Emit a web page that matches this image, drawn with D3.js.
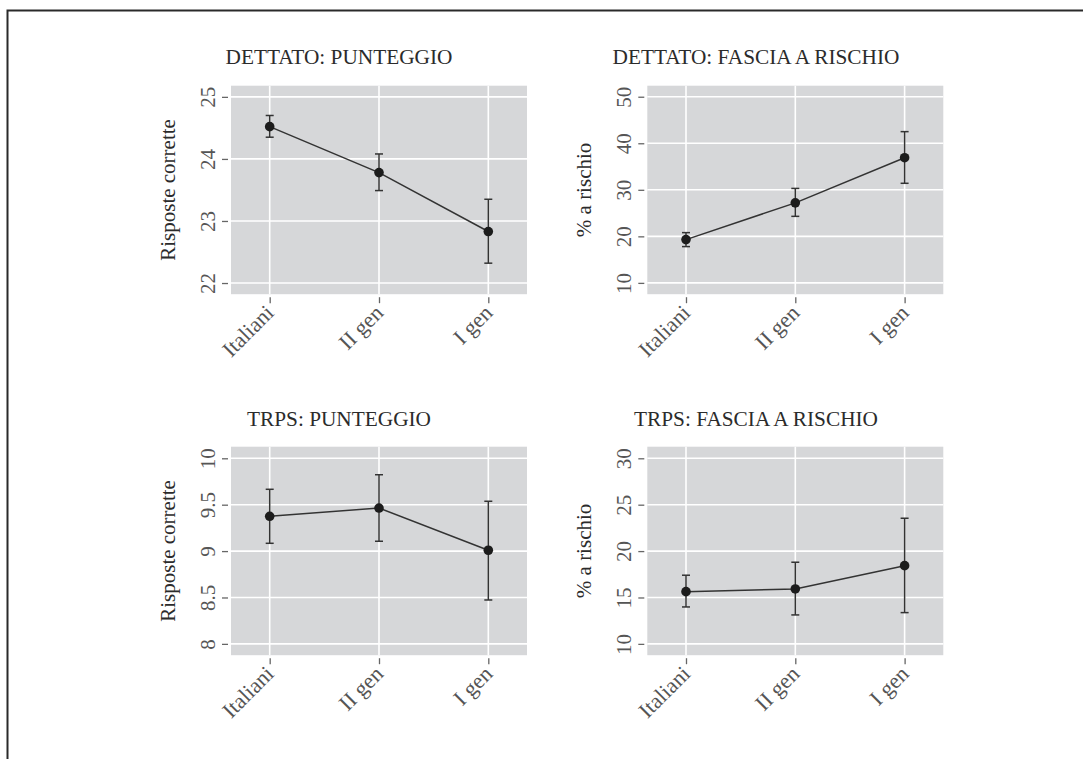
<!DOCTYPE html>
<html>
<head>
<meta charset="utf-8">
<script src="https://cdn.jsdelivr.net/npm/d3@7"></script>
<style>
  html, body { margin: 0; padding: 0; background: #fff; }
  svg { display: block; }
  text { font-family: "Liberation Serif", "DejaVu Serif", serif; }
</style>
</head>
<body>
<svg id="chart" width="1083" height="759"></svg>
<script>
// Groups compared in every panel
const categories = ["Italiani", "II gen", "I gen"];

// DETTATO: punteggio (risposte corrette) — mean with confidence interval
const dettatoScoreMean = [24.52, 23.78, 22.83];
const dettatoScoreLow  = [24.35, 23.49, 22.32];
const dettatoScoreHigh = [24.70, 24.08, 23.35];

// DETTATO: % in fascia a rischio
const dettatoRiskMean = [19.3, 27.2, 36.9];
const dettatoRiskLow  = [17.8, 24.3, 31.4];
const dettatoRiskHigh = [20.8, 30.3, 42.5];

// TRPS: punteggio (risposte corrette)
const trpsScoreMean = [9.375, 9.464, 9.009];
const trpsScoreLow  = [9.084, 9.106, 8.473];
const trpsScoreHigh = [9.666, 9.823, 9.537];

// TRPS: % in fascia a rischio
const trpsRiskMean = [15.63, 15.92, 18.43];
const trpsRiskLow  = [13.98, 13.12, 13.37];
const trpsRiskHigh = [17.40, 18.80, 23.54];

// Tick values per panel
const dettatoScoreTicks = [22, 23, 24, 25];
const dettatoRiskTicks  = [10, 20, 30, 40, 50];
const trpsScoreTicks    = [8, 8.5, 9, 9.5, 10];
const trpsRiskTicks     = [10, 15, 20, 25, 30];

const panels = [
  { title: "DETTATO: PUNTEGGIO", ylabel: "Risposte corrette",
    mean: dettatoScoreMean, lo: dettatoScoreLow, hi: dettatoScoreHigh,
    ticks: dettatoScoreTicks, domain: [21.82, 25.18],
    x0: 231, y0: 85.7, col: 0, row: 0 },
  { title: "DETTATO: FASCIA A RISCHIO", ylabel: "% a rischio",
    mean: dettatoRiskMean, lo: dettatoRiskLow, hi: dettatoRiskHigh,
    ticks: dettatoRiskTicks, domain: [7.57, 52.37],
    x0: 647.3, y0: 85.7, col: 1, row: 0 },
  { title: "TRPS: PUNTEGGIO", ylabel: "Risposte corrette",
    mean: trpsScoreMean, lo: trpsScoreLow, hi: trpsScoreHigh,
    ticks: trpsScoreTicks, domain: [7.878, 10.125],
    x0: 231, y0: 446.7, col: 0, row: 1 },
  { title: "TRPS: FASCIA A RISCHIO", ylabel: "% a rischio",
    mean: trpsRiskMean, lo: trpsRiskLow, hi: trpsRiskHigh,
    ticks: trpsRiskTicks, domain: [8.78, 31.25],
    x0: 647.3, y0: 446.7, col: 1, row: 1 }
];

const plotW = 296, plotH = 208.5;
const titleCenters = [339, 756];
const titleBaselines = [64, 426];

const svg = d3.select("#chart");

// page frame (top and left rules)
svg.append("path")
  .attr("d", "M7.5,759 L7.5,10.5 L1083,10.5")
  .attr("fill", "none")
  .attr("stroke", "#2a2a2a")
  .attr("stroke-width", 2);

panels.forEach(p => {
  const g = svg.append("g").attr("transform", `translate(${p.x0},${p.y0})`);

  const x = d3.scalePoint().domain(categories).range([0, plotW]).padding(0.354);
  const y = d3.scaleLinear().domain(p.domain).range([plotH, 0]);

  // plot background
  g.append("rect")
    .attr("width", plotW).attr("height", plotH)
    .attr("fill", "#d6d7d9");

  // grid lines
  g.selectAll(".hgrid").data(p.ticks).join("line")
    .attr("x1", 0).attr("x2", plotW)
    .attr("y1", d => y(d)).attr("y2", d => y(d))
    .attr("stroke", "#ffffff").attr("stroke-width", 1.6);
  g.selectAll(".vgrid").data(categories).join("line")
    .attr("x1", d => x(d)).attr("x2", d => x(d))
    .attr("y1", 0).attr("y2", plotH)
    .attr("stroke", "#ffffff").attr("stroke-width", 1.6);

  // y axis
  const yAxis = g.append("g")
    .attr("transform", "translate(-3,0)")
    .call(d3.axisLeft(y).tickValues(p.ticks).tickSize(6).tickPadding(0).tickFormat(d => String(d)));
  yAxis.select(".domain").remove();
  yAxis.selectAll(".tick line").attr("stroke", "#666").attr("stroke-width", 1.3);
  yAxis.selectAll(".tick text")
    .attr("fill", "#555")
    .attr("font-size", 21)
    .attr("x", null).attr("dy", null)
    .attr("text-anchor", "middle")
    .attr("transform", "translate(-13,0) rotate(-90)");

  // x axis
  const xAxis = g.append("g")
    .attr("transform", `translate(0,${plotH + 3})`)
    .call(d3.axisBottom(x).tickSize(6).tickPadding(0));
  xAxis.select(".domain").remove();
  xAxis.selectAll(".tick line").attr("stroke", "#666").attr("stroke-width", 1.3);
  xAxis.selectAll(".tick text")
    .attr("fill", "#555")
    .attr("font-size", 22)
    .attr("y", null).attr("dy", null)
    .attr("text-anchor", "end")
    .attr("transform", "translate(5,17) rotate(-45)");

  // y axis title
  g.append("text")
    .attr("transform", `translate(-56,${plotH / 2}) rotate(-90)`)
    .attr("text-anchor", "middle")
    .attr("font-size", 21)
    .attr("fill", "#2b2b2b")
    .text(p.ylabel);

  // panel title
  svg.append("text")
    .attr("x", titleCenters[p.col])
    .attr("y", titleBaselines[p.row])
    .attr("text-anchor", "middle")
    .attr("font-size", 21.3)
    .attr("fill", "#2b2b2b")
    .text(p.title);

  const idx = d3.range(categories.length);

  // connecting line
  g.append("path")
    .datum(idx)
    .attr("fill", "none")
    .attr("stroke", "#333")
    .attr("stroke-width", 1.5)
    .attr("d", d3.line().x(i => x(categories[i])).y(i => y(p.mean[i])));

  // confidence intervals
  const cap = 4;
  const eb = g.selectAll(".eb").data(idx).join("g").attr("stroke", "#333").attr("stroke-width", 1.5);
  eb.append("line")
    .attr("x1", i => x(categories[i])).attr("x2", i => x(categories[i]))
    .attr("y1", i => y(p.lo[i])).attr("y2", i => y(p.hi[i]));
  eb.append("line")
    .attr("x1", i => x(categories[i]) - cap).attr("x2", i => x(categories[i]) + cap)
    .attr("y1", i => y(p.hi[i])).attr("y2", i => y(p.hi[i]));
  eb.append("line")
    .attr("x1", i => x(categories[i]) - cap).attr("x2", i => x(categories[i]) + cap)
    .attr("y1", i => y(p.lo[i])).attr("y2", i => y(p.lo[i]));

  // point estimates
  g.selectAll(".pt").data(idx).join("circle")
    .attr("cx", i => x(categories[i]))
    .attr("cy", i => y(p.mean[i]))
    .attr("r", 4.8)
    .attr("fill", "#1c1c1c");
});
</script>
</body>
</html>
